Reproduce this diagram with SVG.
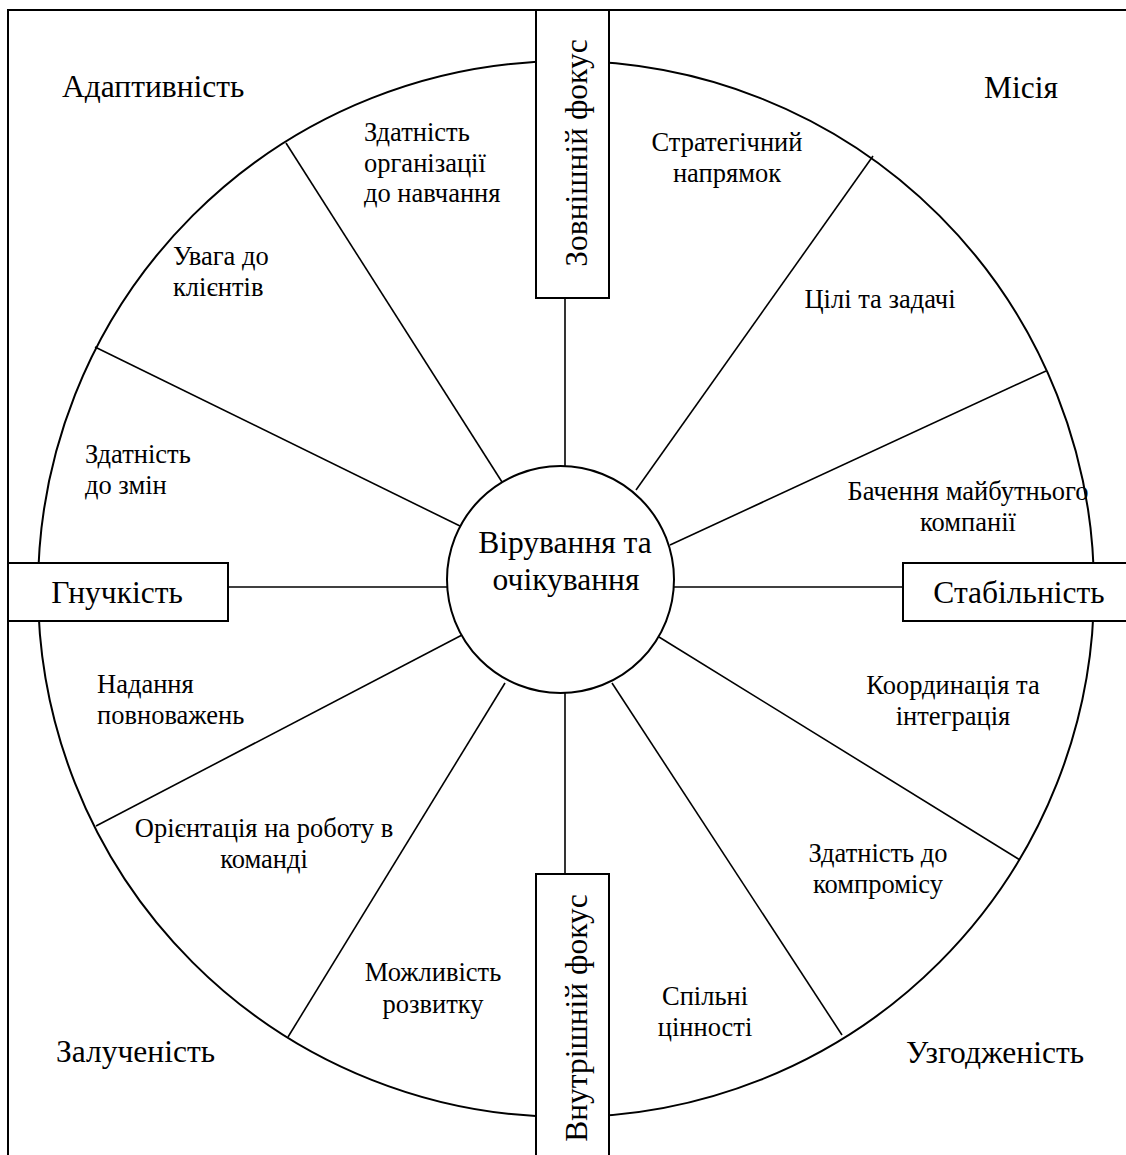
<svg xmlns="http://www.w3.org/2000/svg" width="1126" height="1155" viewBox="0 0 1126 1155" font-family="'Liberation Serif', 'Times New Roman', serif">
<style>
.ln{stroke:#000;stroke-width:1.6;fill:none}
.bx{stroke:#000;stroke-width:2;fill:#fff}
text{font-family:'Liberation Serif','Times New Roman',serif;fill:#000}
.lb{font-size:26.5px}
.hd{font-size:31.5px}
.c{text-anchor:middle}
</style>
<rect width="1126" height="1155" fill="#fff"/>
<g id="frame">
<path class="ln" d="M8,1155 V10 H1126" style="stroke-width:2"/>
</g>
<g id="outer-circle"><circle class="ln" cx="566" cy="589" r="528" style="stroke-width:2"/></g>
<g id="connectors">
<line class="ln" x1="286" y1="143" x2="502" y2="482"/>
<line class="ln" x1="95" y1="347" x2="460" y2="526"/>
<line class="ln" x1="873" y1="156" x2="636" y2="490"/>
<line class="ln" x1="1046" y1="371" x2="670" y2="545"/>
<line class="ln" x1="96" y1="826" x2="462" y2="635"/>
<line class="ln" x1="288" y1="1037" x2="505" y2="683"/>
<line class="ln" x1="1020" y1="860" x2="659" y2="637"/>
<line class="ln" x1="842" y1="1035" x2="612" y2="683"/>
<line class="ln" x1="565" y1="298" x2="565" y2="466"/>
<line class="ln" x1="565" y1="693" x2="565" y2="874"/>
<line class="ln" x1="228" y1="587" x2="447" y2="587"/>
<line class="ln" x1="674" y1="587" x2="903" y2="587"/>
</g>
<g id="center">
<circle class="bx" cx="560.5" cy="579.5" r="113.5"/>
<text class="hd c" x="565" y="553">Вірування та</text>
<text class="hd c" x="566" y="590">очікування</text>
</g>
<g id="flex">
<rect class="bx" x="8" y="563" width="220" height="58"/>
<text class="hd c" x="117" y="603">Гнучкість</text>
</g>
<g id="stab">
<rect class="bx" x="903" y="563" width="230" height="58"/>
<text class="hd c" x="1019" y="603">Стабільність</text>
</g>
<g id="ext">
<rect class="bx" x="536" y="10" width="73" height="288"/>
<text class="hd c" transform="translate(587,153) rotate(-90)">Зовнішній фокус</text>
</g>
<g id="int">
<rect class="bx" x="536" y="874" width="73" height="290"/>
<text class="hd c" transform="translate(587,1018) rotate(-90)">Внутрішній фокус</text>
</g>
<g id="headings">
<text class="hd" x="62" y="97">Адаптивність</text>
<text class="hd" x="984" y="98">Місія</text>
<text class="hd" x="56" y="1062">Залученість</text>
<text class="hd" x="906" y="1063">Узгодженість</text>
</g>
<g id="labels">
<text class="lb" x="364" y="141">Здатність</text>
<text class="lb" x="364" y="172">організації</text>
<text class="lb" x="364" y="202">до навчання</text>
<text class="lb" x="173" y="265">Увага до</text>
<text class="lb" x="173" y="296">клієнтів</text>
<text class="lb" x="85" y="463">Здатність</text>
<text class="lb" x="85" y="494">до змін</text>
<text class="lb c" x="727" y="151">Стратегічний</text>
<text class="lb c" x="727" y="182">напрямок</text>
<text class="lb c" x="880" y="308">Цілі та задачі</text>
<text class="lb c" x="968" y="500">Бачення майбутнього</text>
<text class="lb c" x="968" y="531">компанії</text>
<text class="lb" x="97" y="693">Надання</text>
<text class="lb" x="97" y="724">повноважень</text>
<text class="lb c" x="264" y="837">Орієнтація на роботу в</text>
<text class="lb c" x="264" y="868">команді</text>
<text class="lb c" x="433" y="981">Можливість</text>
<text class="lb c" x="433" y="1013">розвитку</text>
<text class="lb c" x="705" y="1005">Спільні</text>
<text class="lb c" x="705" y="1036">цінності</text>
<text class="lb c" x="953" y="694">Координація та</text>
<text class="lb c" x="953" y="725">інтеграція</text>
<text class="lb c" x="878" y="862">Здатність до</text>
<text class="lb c" x="878" y="893">компромісу</text>
</g>
</svg>
